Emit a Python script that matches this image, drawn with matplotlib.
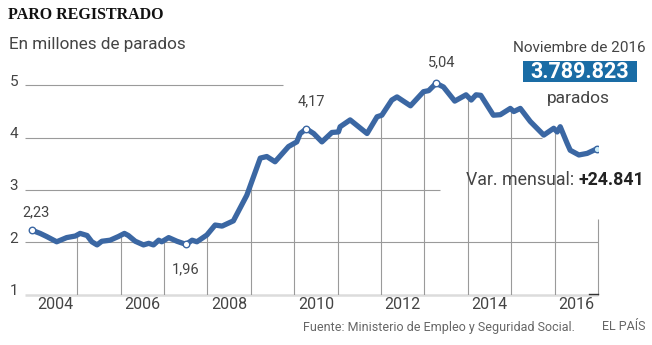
import numpy as np
import matplotlib
matplotlib.use("Agg")
from matplotlib import pyplot as plt
from matplotlib.patches import Rectangle

# paro registrado, millones
years = [2003.96, 2004.15, 2004.30, 2004.53, 2004.76, 2004.96, 2005.07, 2005.23, 2005.34, 2005.46,
         2005.57, 2005.76, 2005.95, 2006.09, 2006.18, 2006.34, 2006.53, 2006.65, 2006.76, 2006.88,
         2006.95, 2007.11, 2007.30, 2007.51, 2007.65, 2007.76, 2007.99, 2008.18, 2008.34, 2008.60,
         2008.91, 2009.22, 2009.37, 2009.56, 2009.87, 2010.06, 2010.14, 2010.28, 2010.45, 2010.64,
         2010.87, 2011.02, 2011.06, 2011.29, 2011.68, 2011.91, 2012.02, 2012.25, 2012.37, 2012.68,
         2012.98, 2013.10, 2013.27, 2013.44, 2013.70, 2013.96, 2014.08, 2014.19, 2014.30, 2014.59,
         2014.75, 2014.98, 2015.06, 2015.21, 2015.44, 2015.75, 2015.98, 2016.06, 2016.13, 2016.29,
         2016.36, 2016.56, 2016.75, 2016.98]
parados = [2.23, 2.17, 2.11, 2.01, 2.09, 2.12, 2.17, 2.13, 2.01, 1.95,
           2.02, 2.04, 2.11, 2.17, 2.13, 2.02, 1.95, 1.98, 1.95, 2.04,
           2.01, 2.09, 2.02, 1.96, 2.04, 2.01, 2.14, 2.33, 2.31, 2.41,
           2.90, 3.61, 3.64, 3.54, 3.83, 3.92, 4.08, 4.17, 4.08, 3.92,
           4.10, 4.11, 4.21, 4.34, 4.08, 4.40, 4.43, 4.72, 4.78, 4.61,
           4.88, 4.90, 5.04, 4.97, 4.70, 4.82, 4.72, 4.82, 4.81, 4.43,
           4.44, 4.56, 4.50, 4.56, 4.31, 4.05, 4.18, 4.11, 4.21, 3.89,
           3.76, 3.67, 3.70, 3.79]

# puntos destacados (indices en la serie) y sus etiquetas
marcados = [0, 23, 37, 52]
etiquetas = ["2,23", "1,96", "4,17", "5,04"]

yticks = [1, 2, 3, 4, 5]
# hasta donde llega cada linea horizontal
grid_fin = [2017.0, 2017.0, 2013.37, 2015.72, 2009.75]
xlabels = ["2004", "2006", "2008", "2010", "2012", "2014", "2016"]
cortes = list(range(2005, 2017))

azul = "#3b67a3"
gris = "#444444"

plt.rcParams['font.family'] = ['Roboto', 'DejaVu Sans']

W, H = 652, 345
fig = plt.figure(figsize=(W / 100, H / 100), dpi=100)
ax = fig.add_axes([25 / W, (H - 294.6) / H, (598 - 25) / W, (294.6 - 59.25) / H])
ax.set_xlim(2003.80, 2017.0)
ax.set_ylim(1, 5.5)
for s in ax.spines.values():
    s.set_visible(False)

# lineas horizontales
for v, fin in zip(yticks, grid_fin):
    col = "#dcdcdc" if v == 1 else "#9a9a9a"
    lw = 1.8 if v == 1 else 0.8
    ax.hlines(v, 2003.80, fin, color=col, lw=lw, zorder=1, clip_on=False)
    ax.text(-0.012, v + 0.07, str(v), transform=ax.get_yaxis_transform(),
            ha="right", va="center", fontsize=11, color=gris)

# lineas verticales hasta la curva
tops = np.interp(cortes, years, parados)
ax.vlines(cortes, 1, tops, color="#9a9a9a", lw=0.8, zorder=1)
ax.vlines(2017.0, 1, 2.45, color="#9a9a9a", lw=0.8, zorder=1, clip_on=False)
ax.plot([2016.8, 2017.0], [1.02, 1.02], color="#333333", lw=1.0, clip_on=False)

ax.plot(years, parados, color=azul, lw=3.8, solid_joinstyle="round",
        solid_capstyle="round", zorder=3)

mx = [years[i] for i in marcados]
my = [parados[i] for i in marcados]
ax.scatter(mx, my, s=22, facecolor="white", edgecolor=azul, linewidth=1.0, zorder=4)
ax.scatter([years[-1]], [parados[-1]], s=22, facecolor="#cdeefa", edgecolor=azul,
           linewidth=1.0, zorder=4)

offs = [(3, 13), (0, -18), (4, 20), (4, 15)]
for i, lab, (dx, dy) in zip(marcados, etiquetas, offs):
    ax.annotate(lab, (years[i], parados[i]), xytext=(dx, dy), textcoords="offset points",
                ha="center", va="center", fontsize=10.5, color=gris)

ax.set_xticks([int(a) + 0.5 for a in xlabels])
ax.set_xticklabels(xlabels, fontsize=11.5, color=gris)
ax.tick_params(axis="x", length=0, pad=2)
ax.set_yticks([])

# textos
fig.text(8 / W, 1 - 15 / H, "PARO REGISTRADO", family="Liberation Serif", fontweight="bold",
         fontsize=11.5, color="#111111", va="center", ha="left")
fig.text(9 / W, 1 - 45 / H, "En millones de parados", fontsize=12.3, color=gris,
         va="center", ha="left")
fig.text(579 / W, 1 - 48 / H, "Noviembre de 2016", fontsize=11, color=gris,
         va="center", ha="center")
fig.patches.append(Rectangle((523 / W, 1 - 82 / H), 114 / W, 21 / H, transform=fig.transFigure,
                             facecolor="#1a6ca5", edgecolor="none"))
fig.text(580 / W, 1 - 72 / H, "3.789.823", fontsize=15.5, color="white", fontweight="bold",
         va="center", ha="center")
fig.text(578 / W, 1 - 99 / H, "parados", fontsize=12.5, color=gris,
         va="center", ha="center")
var = fig.text(644 / W, 1 - 180 / H, "+24.841", fontsize=12.8, color="#222222",
               fontweight="bold", va="center", ha="right")
ax.annotate("Var. mensual: ", xy=(0, 0.5), xycoords=var, fontsize=12.8, color=gris,
            va="center", ha="right", annotation_clip=False)
fig.text(575 / W, 1 - 327 / H, "Fuente: Ministerio de Empleo y Seguridad Social.",
         fontsize=9, color="#666666", va="center", ha="right")
fig.text(645 / W, 1 - 327 / H, "EL PAÍS", fontsize=9, color="#666666",
         va="center", ha="right")

fig.savefig("out.png", dpi=100, facecolor="white")
